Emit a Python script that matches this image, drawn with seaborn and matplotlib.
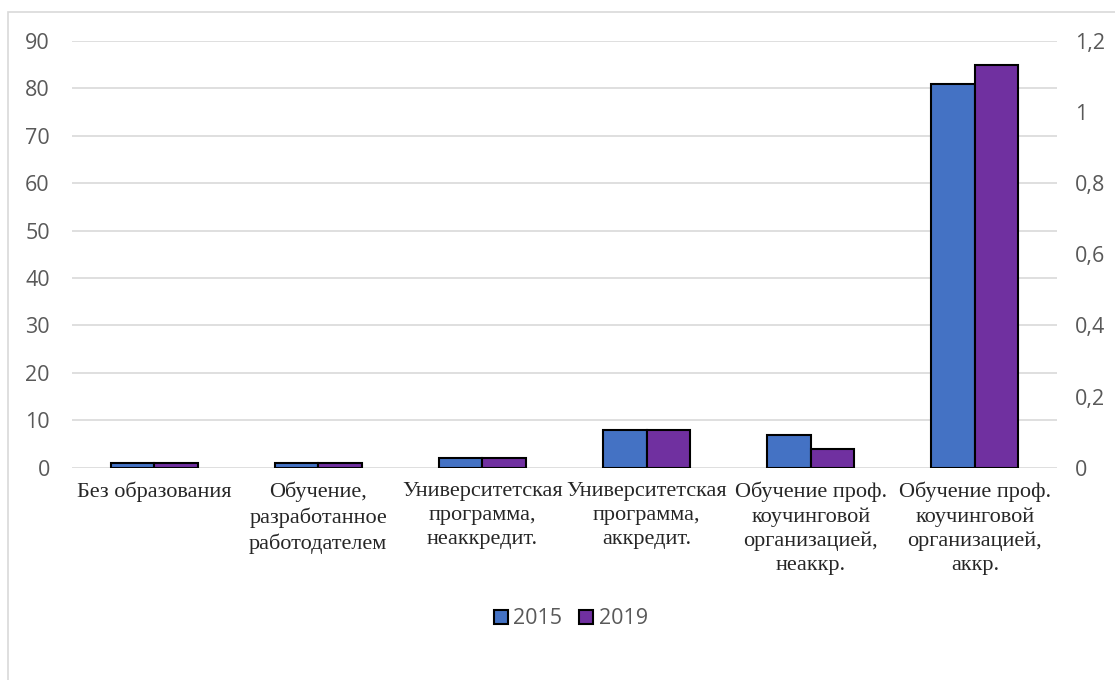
import numpy as np
import pandas as pd
import matplotlib
matplotlib.use('Agg')
import matplotlib.pyplot as plt
from matplotlib.patches import Rectangle
from matplotlib.ticker import FuncFormatter
import seaborn as sns

# данные
categories = ['Без образования',
              'Обучение,\nразработанное\nработодателем',
              'Университетская\nпрограмма,\nнеаккредит.',
              'Университетская\nпрограмма,\nаккредит.',
              'Обучение проф.\nкоучинговой\nорганизацией,\nнеаккр.',
              'Обучение проф.\nкоучинговой\nорганизацией,\nаккр.']
years = ['2015', '2019']
values_2015 = [1, 1, 2, 8, 7, 81]
values_2019 = [1, 1, 2, 8, 4, 85]

df = pd.DataFrame({
    'cat': categories * 2,
    'year': [years[0]] * len(categories) + [years[1]] * len(categories),
    'val': values_2015 + values_2019,
})

sns.set_theme(style='white')
plt.rcParams['font.family'] = ['Open Sans', 'DejaVu Sans']

fig = plt.figure(figsize=(11.15, 6.8), dpi=100)
ax = fig.add_axes([0.0646, 0.312, 0.8834, 0.628])

sns.barplot(data=df, x='cat', y='val', hue='year', ax=ax,
            palette=['#4472C4', '#7030A0'], width=0.53,
            edgecolor='black', linewidth=1.5, saturation=1, zorder=3)

ax.set_ylim(0, 90)
ax.set_yticks(np.arange(0, 91, 10))
ax.set_xlim(-0.5, len(categories) - 0.5)
ax.yaxis.grid(True, color='#D9D9D9', linewidth=1.2, zorder=0)
ax.set_axisbelow(True)
for s in ax.spines.values():
    s.set_visible(False)
ax.set_xlabel('')
ax.set_ylabel('')
ax.tick_params(axis='y', labelsize=15.5, labelcolor='#595959', length=0, pad=16)
ax.tick_params(axis='x', length=0, pad=10)
for lab in ax.get_xticklabels():
    lab.set_fontfamily('Liberation Serif')
    lab.set_fontsize(16)
    lab.set_linespacing(1.35)
    lab.set_verticalalignment('top')

# вторичная ось
ax2 = ax.twinx()
ax2.set_ylim(0, 1.2)
ax2.set_yticks(np.arange(0, 1.21, 0.2))
ax2.yaxis.set_major_formatter(FuncFormatter(lambda v, p: ('%g' % round(v, 1)).replace('.', ',')))
ax2.tick_params(axis='y', labelsize=15.5, labelcolor='#595959', length=0, pad=13)
for s in ax2.spines.values():
    s.set_visible(False)

# легенда
handles, labels = ax.get_legend_handles_labels()
ax.legend(handles, labels, loc='center', bbox_to_anchor=(0.512, 0.09),
          bbox_transform=fig.transFigure, ncol=2, frameon=False,
          fontsize=15.5, handlelength=0.65, handleheight=0.65,
          handletextpad=0.25, columnspacing=0.8, labelcolor='#595959')

# рамка (правая и нижняя стороны за краем картинки)
fig.patches.append(Rectangle((0.0072, -0.02), 1.05, 1.002, transform=fig.transFigure,
                             fill=False, edgecolor='#D9D9D9', linewidth=1.2))

fig.savefig('out.png', dpi=100)
